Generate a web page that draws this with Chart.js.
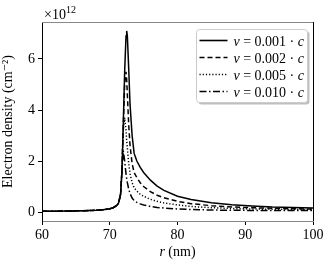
<!DOCTYPE html>
<html lang="en">
<head>
    <meta charset="UTF-8">
    <title>Electron density</title>
    <script src="https://cdn.jsdelivr.net/npm/chart.js@4/dist/chart.umd.min.js"></script>
    <style>
        html, body { margin: 0; padding: 0; background: #fff; }
        #wrap { width: 332px; height: 266px; }
    </style>
</head>
<body>
<div id="wrap"><canvas id="main_chart"></canvas></div>
<script>
    // radius (nm)
    const radius = [60, 62, 64, 66, 68, 69, 70, 70.5, 71, 71.3, 71.6, 71.8, 72.0, 72.2, 72.4, 72.5, 72.6, 72.8, 73, 73.3, 73.6, 74, 74.5, 75, 76, 77, 78, 80, 82, 85, 88, 91, 94, 97, 100];
    // electron density, units of 1e12 cm^-2
    const v001 = [0.03, 0.035, 0.04, 0.05, 0.07, 0.09, 0.13, 0.17, 0.25, 0.35, 0.7, 1.6, 3.5, 5.5, 6.9, 7.1, 6.9, 5.6, 4.2, 3.0, 2.3, 2.0, 1.75, 1.55, 1.25, 1.02, 0.85, 0.62, 0.49, 0.37, 0.29, 0.24, 0.2, 0.18, 0.16];
    const v002 = [0.03, 0.035, 0.04, 0.05, 0.07, 0.09, 0.13, 0.17, 0.25, 0.35, 0.7, 1.6, 3.4, 5.0, 5.5, 5.2, 4.6, 3.4, 2.6, 1.9, 1.55, 1.35, 1.15, 1.0, 0.8, 0.66, 0.56, 0.42, 0.33, 0.25, 0.2, 0.17, 0.15, 0.13, 0.12];
    const v005 = [0.03, 0.035, 0.04, 0.05, 0.07, 0.09, 0.13, 0.17, 0.25, 0.35, 0.7, 1.6, 3.2, 3.7, 3.2, 2.8, 2.5, 1.9, 1.5, 1.15, 0.95, 0.82, 0.7, 0.62, 0.5, 0.42, 0.36, 0.28, 0.22, 0.17, 0.14, 0.12, 0.11, 0.1, 0.09];
    const v010 = [0.03, 0.035, 0.04, 0.05, 0.07, 0.09, 0.13, 0.17, 0.25, 0.35, 0.7, 1.6, 2.4, 2.0, 1.5, 1.3, 1.15, 0.9, 0.72, 0.55, 0.45, 0.38, 0.32, 0.28, 0.22, 0.18, 0.16, 0.12, 0.1, 0.08, 0.07, 0.065, 0.06, 0.06, 0.06];
    const seriesLabels = ['0.001', '0.002', '0.005', '0.010'];
    const xTicks = [60, 70, 80, 90, 100];
    const yTicks = [0, 2, 4, 6];

    const SERIF = '"Liberation Serif", "DejaVu Serif", serif';
    const dashes = [[], [5, 3], [1.2, 2], [7, 2.5, 1.5, 2.5]];
    const allSeries = [v001, v002, v005, v010];

    const toPoints = (ys) => ys.map((y, i) => ({x: radius[i], y: y}));

    // draws the frame, the x10^12 offset, the x title and the legend box
    const decorations = {
        id: 'decorations',
        afterDraw(chart) {
            const ctx = chart.ctx;
            const a = chart.chartArea;
            ctx.save();
            ctx.lineWidth = 1;
            ctx.strokeStyle = '#888';
            ctx.beginPath();
            ctx.moveTo(a.left, a.top + 0.5);
            ctx.lineTo(a.right, a.top + 0.5);
            ctx.stroke();
            ctx.strokeStyle = '#000';
            ctx.beginPath();
            ctx.moveTo(a.right + 0.5, a.top);
            ctx.lineTo(a.right + 0.5, a.bottom);
            ctx.stroke();

            // offset text
            ctx.fillStyle = '#000';
            ctx.textBaseline = 'alphabetic';
            ctx.font = '14px ' + SERIF;
            ctx.fillText('\u00d710', a.left + 2, 19);
            const w = ctx.measureText('\u00d710').width;
            ctx.font = '10px ' + SERIF;
            ctx.fillText('12', a.left + 2 + w, 13);

            // x title
            ctx.font = 'italic 14px ' + SERIF;
            const rW = ctx.measureText('r').width;
            ctx.font = '14px ' + SERIF;
            const restW = ctx.measureText(' (nm)').width;
            const cx = (a.left + a.right) / 2;
            let tx = cx - (rW + restW) / 2;
            ctx.font = 'italic 14px ' + SERIF;
            ctx.fillText('r', tx, 256);
            ctx.font = '14px ' + SERIF;
            ctx.fillText(' (nm)', tx + rW, 256);

            // legend
            const bx = 196.5, by = 29.5, bw = 111, bh = 73;
            ctx.fillStyle = 'rgba(0,0,0,0.25)';
            ctx.beginPath();
            ctx.roundRect(bx + 2, by + 2, bw, bh, 3);
            ctx.fill();
            ctx.fillStyle = '#fff';
            ctx.strokeStyle = '#ccc';
            ctx.beginPath();
            ctx.roundRect(bx, by, bw, bh, 3);
            ctx.fill();
            ctx.stroke();
            for (let i = 0; i < seriesLabels.length; i++) {
                const ly = by + 11 + i * 17;
                ctx.strokeStyle = '#000';
                ctx.lineWidth = 1.6;
                ctx.setLineDash(dashes[i]);
                ctx.beginPath();
                ctx.moveTo(bx + 3, ly);
                ctx.lineTo(bx + 31, ly);
                ctx.stroke();
                ctx.setLineDash([]);
                ctx.fillStyle = '#000';
                let px = bx + 37;
                ctx.font = 'italic 14px ' + SERIF;
                ctx.fillText('v', px, ly + 5);
                px += ctx.measureText('v').width;
                ctx.font = '14px ' + SERIF;
                const mid = ' = ' + seriesLabels[i] + ' \u00b7 ';
                ctx.fillText(mid, px, ly + 5);
                px += ctx.measureText(mid).width;
                ctx.font = 'italic 14px ' + SERIF;
                ctx.fillText('c', px, ly + 5);
            }
            ctx.restore();
        }
    };

    const canvas = document.getElementById('main_chart').getContext('2d');
    let chart = new Chart(canvas, {
        type: 'line',
        data: {
            datasets: allSeries.map((ys, i) => ({
                label: 'v = ' + seriesLabels[i] + ' \u00b7 c',
                data: toPoints(ys),
                borderColor: '#000',
                borderWidth: 1.5,
                borderDash: dashes[i],
                pointRadius: 0,
                tension: 0,
                fill: false
            }))
        },
        options: {
            animation: false,
            responsive: true,
            maintainAspectRatio: false,
            layout: {padding: {left: 0, right: 19, top: 22, bottom: 0}},
            plugins: {legend: {display: false}, tooltip: {enabled: false}},
            scales: {
                x: {
                    type: 'linear',
                    min: 60,
                    max: 100,
                    afterBuildTicks: (s) => { s.ticks = xTicks.map(v => ({value: v})); },
                    afterFit: (s) => { s.height = 45; },
                    border: {display: true, color: '#888', width: 1},
                    grid: {drawOnChartArea: false, tickLength: 4, tickColor: '#000'},
                    ticks: {color: '#000', font: {family: SERIF, size: 14}, padding: 2, maxRotation: 0}
                },
                y: {
                    type: 'linear',
                    min: -0.35,
                    max: 7.45,
                    afterBuildTicks: (s) => { s.ticks = yTicks.map(v => ({value: v})); },
                    afterFit: (s) => { s.width = 42; },
                    border: {display: true, color: '#000', width: 1},
                    grid: {drawOnChartArea: false, tickLength: 4, tickColor: '#000'},
                    ticks: {color: '#000', font: {family: SERIF, size: 14}, padding: 3},
                    title: {
                        display: true,
                        text: 'Electron density (cm\u207b\u00b2)',
                        color: '#000',
                        font: {family: SERIF, size: 14},
                        padding: {top: 0, bottom: 0}
                    }
                }
            }
        },
        plugins: [decorations]
    });
</script>
</body>
</html>
